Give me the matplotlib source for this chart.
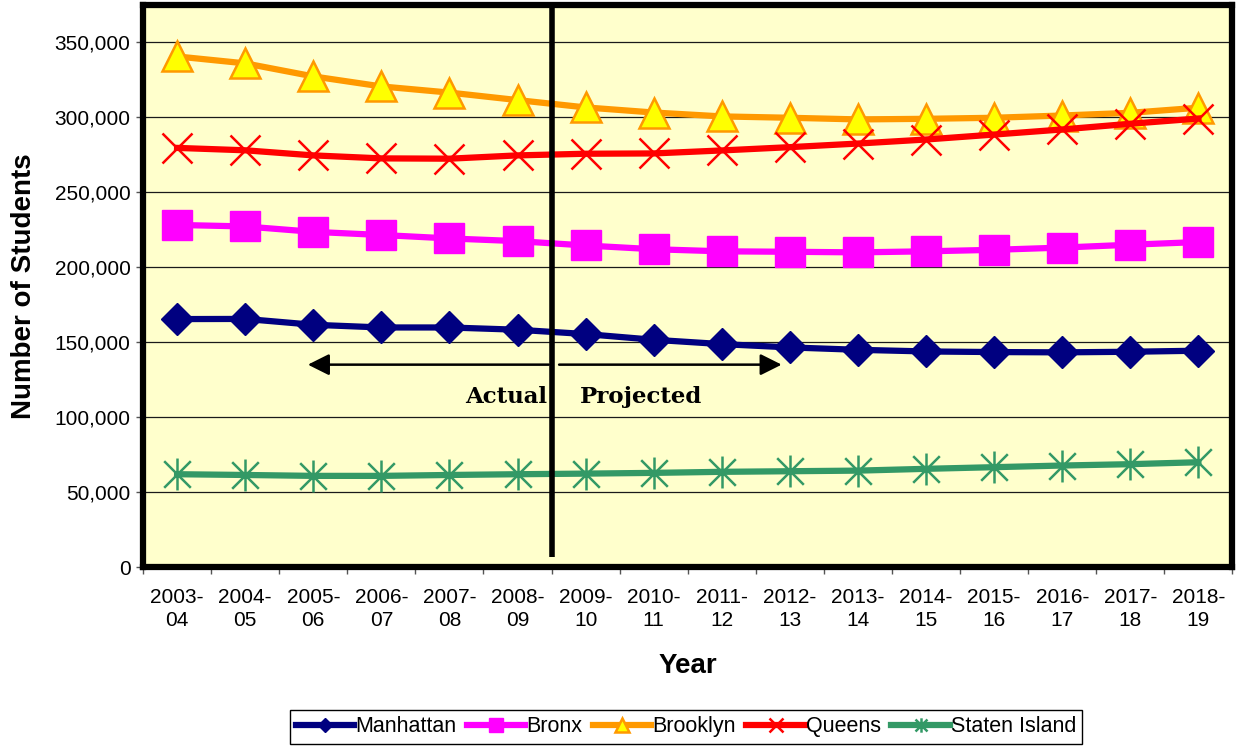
import numpy as np
import matplotlib
matplotlib.use("Agg")
import matplotlib.pyplot as plt
from matplotlib.path import Path
from matplotlib.ticker import FuncFormatter

plt.rcParams['font.family'] = ['Liberation Sans', 'DejaVu Sans']

years = ["2003-\n04", "2004-\n05", "2005-\n06", "2006-\n07", "2007-\n08", "2008-\n09",
         "2009-\n10", "2010-\n11", "2011-\n12", "2012-\n13", "2013-\n14", "2014-\n15",
         "2015-\n16", "2016-\n17", "2017-\n18", "2018-\n19"]

manhattan = [165400, 165500, 161600, 159800, 159800, 158300, 155400, 151600,
             148700, 146500, 144900, 143800, 143400, 143200, 143600, 144300]
bronx = [228200, 227200, 223600, 221500, 219200, 217400, 214500, 212000,
         210600, 210300, 209900, 210600, 211600, 213100, 215000, 216800]
brooklyn = [340600, 336000, 327300, 320600, 316500, 311500, 306600, 303200,
            300600, 299700, 298600, 299000, 299700, 301200, 303000, 306400]
queens = [279600, 278000, 274600, 272600, 272400, 274600, 275700, 275900,
          277900, 280100, 282500, 285200, 288500, 291900, 295700, 299200]
staten_island = [61900, 61400, 60800, 60800, 61400, 61900, 62300, 62800,
                 63500, 63900, 64300, 65500, 66600, 67700, 68600, 69900]

x = np.arange(len(years))

# excel style asterisk: x plus a vertical bar
star = Path([(-1, -1), (1, 1), (-1, 1), (1, -1), (0, -1.2), (0, 1.2)],
            [Path.MOVETO, Path.LINETO, Path.MOVETO, Path.LINETO, Path.MOVETO, Path.LINETO])

fig = plt.figure(figsize=(12.45, 7.53), dpi=100)
ax = fig.add_axes([0.1149, 0.247, 0.875, 0.7465])
ax.set_facecolor('#FFFFCC')

lw = 4.5
ax.plot(x, manhattan, color='#000080', lw=lw, marker='D', ms=16, mfc='#000080', mec='#000080',
        label='Manhattan', zorder=5)
ax.plot(x, bronx, color='#FF00FF', lw=lw, marker='s', ms=22, mfc='#FF00FF', mec='#FF00FF',
        label='Bronx', zorder=5)
ax.plot(x, brooklyn, color='#FF9900', lw=lw, marker='^', ms=22, mfc='#FFFF00', mec='#FF9900',
        mew=1.8, label='Brooklyn', zorder=5)
ax.plot(x, queens, color='#FF0000', lw=lw, marker='x', ms=22, mec='#FF0000', mew=1.8,
        label='Queens', zorder=5)
ax.plot(x, staten_island, color='#339966', lw=lw, marker=star, ms=23, mfc='none', mec='#339966',
        mew=1.8, label='Staten Island', zorder=5)

ax.set_xlim(-0.5, 15.5)
ax.set_ylim(0, 375000)
ax.set_yticks(np.arange(0, 350001, 50000))
ax.yaxis.set_major_formatter(FuncFormatter(lambda v, p: f"{int(v):,}"))
ax.grid(axis='y', color='#1a1a1a', lw=0.9)
ax.set_axisbelow(True)

ax.set_xticks(x)
ax.set_xticklabels(years, linespacing=1.3)
ax.set_xticks(np.arange(-0.5, 16, 1), minor=True)
ax.tick_params(axis='x', which='major', length=0, pad=15, labelsize=15)
ax.tick_params(axis='x', which='minor', length=5, width=1, color='#555555')
ax.tick_params(axis='y', length=5, width=1, color='#555555', labelsize=15, pad=4)

for s in ax.spines.values():
    s.set_linewidth(4.5)
    s.set_color('black')

# actual / projected divider
ax.vlines(5.5, 6500, 375000, colors='black', lw=4, zorder=6)
ax.annotate('', xy=(1.88, 135000), xytext=(5.5, 135000),
            arrowprops=dict(arrowstyle='-|>,head_length=1.3,head_width=0.65', color='black', lw=1.8))
ax.annotate('', xy=(8.92, 135000), xytext=(5.57, 135000),
            arrowprops=dict(arrowstyle='-|>,head_length=1.3,head_width=0.65', color='black', lw=1.8))
ax.text(5.43, 113500, 'Actual', ha='right', va='center', fontsize=16.5, fontweight='bold',
        family='DejaVu Serif')
ax.text(5.92, 113500, 'Projected', ha='left', va='center', fontsize=16.5, fontweight='bold',
        family='DejaVu Serif')

ax.set_ylabel('Number of Students', fontsize=20, fontweight='bold', labelpad=8)
ax.yaxis.set_label_coords(-0.097, 0.5)
ax.set_xlabel('Year', fontsize=20, fontweight='bold', labelpad=16)

leg = fig.legend(loc='lower center', bbox_to_anchor=(0.551, -0.002), ncol=5, fontsize=15.5,
                 frameon=True, fancybox=False, edgecolor='black', framealpha=1,
                 handlelength=2.7, handletextpad=0.05, columnspacing=0.5, markerscale=0.45,
                 borderpad=0.3)
leg.get_frame().set_linewidth(1.0)

fig.savefig('out.png', dpi=100)
